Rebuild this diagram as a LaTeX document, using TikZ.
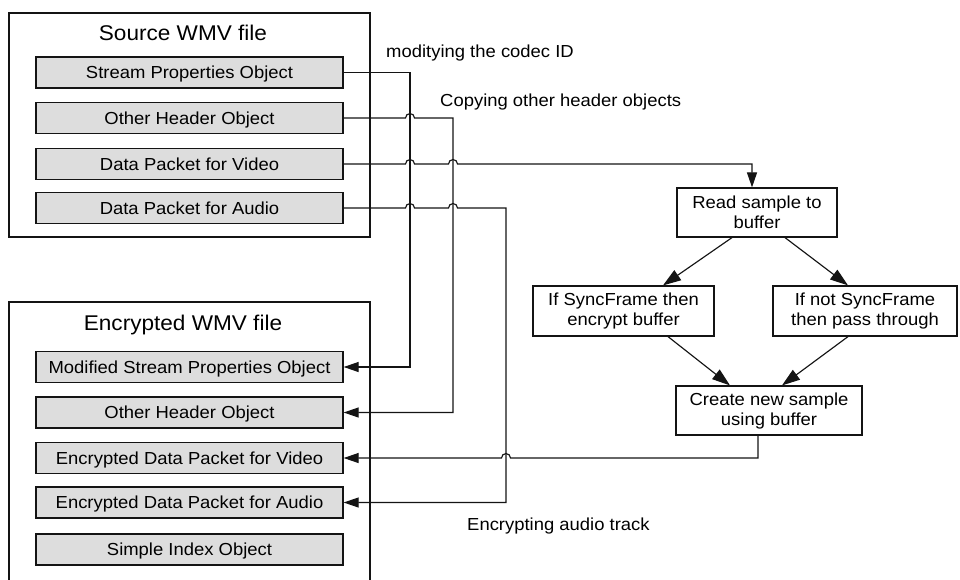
\documentclass[tikz,border=0pt]{standalone}
\usepackage{fontspec}
\setmainfont{Liberation Sans}[FakeStretch=1.06]
\usetikzlibrary{arrows.meta,calc}
\definecolor{objfill}{RGB}{221,221,221}
\definecolor{ink}{RGB}{20,20,20}

\tikzset{
  filebox/.style={draw=ink, line width=1.3pt, minimum width=361pt, inner sep=0pt},
  objbox/.style={draw=ink, line width=1.3pt, fill=objfill, minimum width=307pt,
    minimum height=31pt, inner sep=0pt, text height=12.5pt, text depth=0pt,
    font=\fontsize{17.4}{20}\selectfont},
  filetitle/.style={font=\fontsize{21.3}{24}\selectfont, inner sep=0pt,
    text height=15.2pt, text depth=0pt},
  stepbox/.style={draw=ink, line width=1.2pt, fill=white, align=center, inner sep=0pt,
    font=\fontsize{17.4}{20}\selectfont},
  note/.style={font=\fontsize{17.4}{20}\selectfont, inner sep=0pt, anchor=base west},
  link/.style={draw=ink, line width=1.15pt},
  flow/.style={link, -{Triangle[length=15pt,width=10pt]}},
  slant/.style={link, -{Triangle[length=18pt,width=12pt]}},
}

\begin{document}
\begin{tikzpicture}[x=1pt, y=-1pt]
  \useasboundingbox (0,0) rectangle (960,579);
  \clip (0,0) rectangle (960,579);
  \fill[white] (0,0) rectangle (960,579);

  % source file and its objects
  \node[filebox, minimum height=224pt] (src) at (189.5,125) {};
  \node[filetitle] (srctitle) at (183,33) {Source WMV file};
  \node[objbox] (sp) at (189.5,72.5) {Stream Properties Object};
  \node[objbox] (oh) at (189.5,118) {Other Header Object};
  \node[objbox] (dv) at (189.5,164) {Data Packet for Video};
  \node[objbox] (da) at (189.5,208) {Data Packet for Audio};

  % encrypted file and its objects
  \node[filebox, minimum height=318pt] (enc) at (189.5,461) {};
  \node[filetitle] (enctitle) at (183,323) {Encrypted WMV file};
  \node[objbox] (msp) at (189.5,367) {Modified Stream Properties Object};
  \node[objbox] (eoh) at (189.5,412.5) {Other Header Object};
  \node[objbox] (ev) at (189.5,458) {Encrypted Data Packet for Video};
  \node[objbox] (ea) at (189.5,502.5) {Encrypted Data Packet for Audio};
  \node[objbox] (si) at (189.5,549.5) {Simple Index Object};

  % processing steps for the video samples
  \node[stepbox, minimum width=160pt, minimum height=49pt] (read) at (757,212.5)
    {Read sample to\\buffer};
  \node[stepbox, minimum width=181pt, minimum height=50pt] (sync) at (623.5,311)
    {If SyncFrame then\\encrypt buffer};
  \node[stepbox, minimum width=184pt, minimum height=50pt] (nosync) at (865,311)
    {If not SyncFrame\\then pass through};
  \node[stepbox, minimum width=186pt, minimum height=49pt] (create) at (769,410.5)
    {Create new sample\\using buffer};

  % connector labels
  \node[note] (lcodec) at (386,57) {moditying the codec ID};
  \node[note] (lcopy) at (440,106) {Copying other header objects};
  \node[note] (laudio) at (467,530) {Encrypting audio track};

  % vertical routing tracks
  \coordinate (t1) at (410,0);
  \coordinate (t2) at (453,0);
  \coordinate (t3) at (506,0);
  \coordinate (rin) at ([xshift=-5pt]read.north);
  \coordinate (cout) at ([xshift=-11pt]create.south);

  % stream properties -> modified stream properties
  \draw[flow] (sp.east) -- (t1 |- sp.east) -- (t1 |- msp.east) -- (msp.east);

  % other header objects are copied
  \draw[flow] (oh.east)
    -- ($(t1 |- oh.east)+(-4.5pt,0)$) arc[start angle=180, end angle=0, radius=4.5pt]
    -- (t2 |- oh.east) -- (t2 |- eoh.east) -- (eoh.east);

  % video packets go through the sample loop
  \draw[flow] (dv.east)
    -- ($(t1 |- dv.east)+(-4.5pt,0)$) arc[start angle=180, end angle=0, radius=4.5pt]
    -- ($(t2 |- dv.east)+(-4.5pt,0)$) arc[start angle=180, end angle=0, radius=4.5pt]
    -- (rin |- dv.east) -- (rin);

  % audio packets are encrypted
  \draw[flow] (da.east)
    -- ($(t1 |- da.east)+(-4.5pt,0)$) arc[start angle=180, end angle=0, radius=4.5pt]
    -- ($(t2 |- da.east)+(-4.5pt,0)$) arc[start angle=180, end angle=0, radius=4.5pt]
    -- (t3 |- da.east) -- (t3 |- ea.east) -- (ea.east);

  % new samples return to the encrypted video packets
  \draw[flow] (cout) -- (cout |- ev.east)
    -- ($(t3 |- ev.east)+(4.5pt,0)$) arc[start angle=0, end angle=180, radius=4.5pt]
    -- (ev.east);

  % sample loop
  \draw[slant] ([xshift=-25pt]read.south) -- ([xshift=39.5pt]sync.north);
  \draw[slant] ([xshift=28pt]read.south) -- ([xshift=-17pt]nosync.north);
  \draw[slant] ([xshift=44.5pt]sync.south) -- ([xshift=-39pt]create.north);
  \draw[slant] ([xshift=-17pt]nosync.south) -- ([xshift=13pt]create.north);
\end{tikzpicture}
\end{document}
